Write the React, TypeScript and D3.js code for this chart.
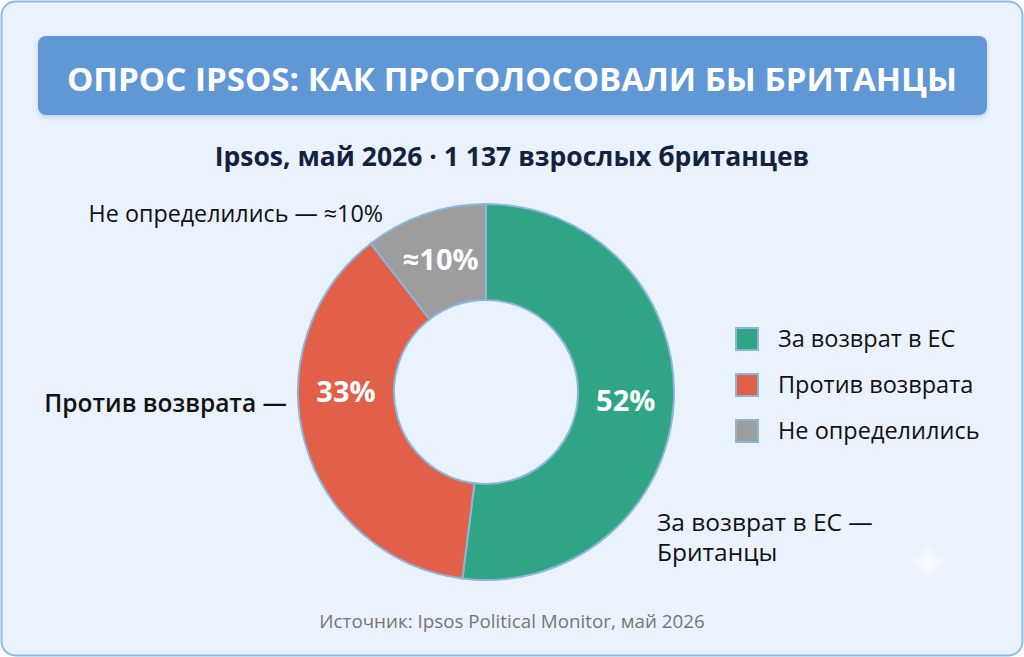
import React from "react";
import * as d3 from "d3";

const categories = ["За возврат в ЕС", "Против возврата", "Не определились"];
const shares = [52, 37.5, 10.5];
const sliceLabels = ["52%", "33%", "≈10%"];
const colors = ["#2fa585", "#e25f4a", "#9d9d9d"];
const titleText = "ОПРОС IPSOS: КАК ПРОГОЛОСОВАЛИ БЫ БРИТАНЦЫ";
const subtitleText = "Ipsos, май 2026 · 1 137 взрослых британцев";
const sourceText = "Источник: Ipsos Political Monitor, май 2026";

const W = 1024;
const H = 657;
const FONT = "'Open Sans', 'Noto Sans', sans-serif";

export default function App() {
  const cx = 486;
  const cy = 392;
  const rOuter = 188;
  const rInner = 92;
  const pie = d3.pie<number>().sort(null).value((d) => d);
  const arcs = pie(shares);
  const arcGen = d3.arc<d3.PieArcDatum<number>>().innerRadius(rInner).outerRadius(rOuter);
  const labelR = 140;

  const legendY = d3.scaleBand<string>().domain(categories).range([328, 466]).paddingInner(0);

  const labelPos = (a: d3.PieArcDatum<number>, i: number) => {
    let ang = (a.startAngle + a.endAngle) / 2;
    if (i === 1) ang = (3 * Math.PI) / 2;
    return [Math.sin(ang) * labelR, -Math.cos(ang) * labelR];
  };

  return (
    <svg
      width={W}
      height={H}
      viewBox={`0 0 ${W} ${H}`}
      style={{ position: "absolute", left: 0, top: 0, display: "block" }}
      fontFamily={FONT}
    >
      <defs>
        <filter id="sh" x="-5%" y="-20%" width="110%" height="150%">
          <feDropShadow dx="0" dy="2" stdDeviation="2" floodColor="#2a5a90" floodOpacity="0.25" />
        </filter>
        <filter id="blur" x="-50%" y="-50%" width="200%" height="200%">
          <feGaussianBlur stdDeviation="2" />
        </filter>
      </defs>
      <rect x={0} y={0} width={W} height={H} fill="#ffffff" />
      <rect x={1.5} y={1.5} width={W - 3} height={H - 3} rx={14} fill="#eaf3fd" stroke="#8dbbe2" strokeWidth={2} />
      <rect x={38} y={36} width={949} height={79} rx={8} fill="#6198d6" filter="url(#sh)" />
      <text x={512} y={91} textAnchor="middle" fill="#ffffff" fontWeight={700} fontSize={32} textLength={890} lengthAdjust="spacingAndGlyphs">
        {titleText}
      </text>
      <text x={512} y={166} textAnchor="middle" fill="#14213f" fontWeight={700} fontSize={26.5}>
        {subtitleText}
      </text>

      <g transform={`translate(${cx},${cy})`}>
        {arcs.map((a, i) => (
          <path key={i} d={arcGen(a) || ""} fill={colors[i]} stroke="#8bb6da" strokeWidth={2} />
        ))}
        {arcs.map((a, i) => {
          const [x, y] = labelPos(a, i);
          return (
            <text key={"l" + i} x={x} y={y} dy="0.35em" textAnchor="middle" fill="#ffffff" fontWeight={700} fontSize={29}>
              {sliceLabels[i]}
            </text>
          );
        })}
      </g>

      <text x={383} y={222} textAnchor="end" fill="#111111" fontSize={23.3}>
        {categories[2]} — ≈10%
      </text>
      <text x={287} y={412} textAnchor="end" fill="#111111" fontSize={24.5} fontWeight={600}>
        {categories[1]} —
      </text>
      <text x={657} y={531} fill="#111111" fontSize={24.5}>
        <tspan x={657}>{categories[0]} —</tspan>
        <tspan x={657} dy={30}>Британцы</tspan>
      </text>

      {categories.map((c, i) => {
        const y = legendY(c) as number;
        return (
          <g key={c}>
            <rect x={736} y={y} width={22} height={22} fill={colors[i]} stroke="#8bb6da" strokeWidth={2} />
            <text x={778} y={y + 11} dy="0.35em" fill="#111111" fontSize={23.5}>
              {c}
            </text>
          </g>
        );
      })}

      <text x={512} y={628} textAnchor="middle" fill="#767676" fontSize={18.8}>
        {sourceText}
      </text>

      <g transform="translate(928,562)" opacity={0.7} filter="url(#blur)">
        <path d="M0,-15 Q3,-3 15,0 Q3,3 0,15 Q-3,3 -15,0 Q-3,-3 0,-15Z" fill="#ffffff" />
      </g>
    </svg>
  );
}
